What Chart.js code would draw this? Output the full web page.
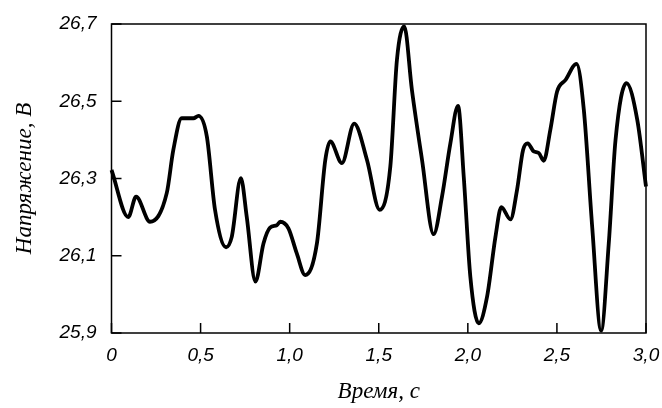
<!DOCTYPE html>
<html>
<head>
<meta charset="utf-8">
<script src="https://cdn.jsdelivr.net/npm/chart.js@4.4.1/dist/chart.umd.min.js"></script>
<style>
html,body{margin:0;padding:0;background:#fff;}
#wrap{width:662px;height:408px;}
</style>
</head>
<body>
<div id="wrap"><canvas id="c" width="662" height="408"></canvas></div>
<script>
const times = [0.0,0.094,0.138,0.216,0.31,0.347,0.394,0.46,0.488,0.535,0.581,0.643,0.675,0.726,0.759,0.808,0.853,0.89,0.928,0.947,0.993,1.04,1.087,1.153,1.2,1.228,1.293,1.362,1.434,1.505,1.565,1.602,1.643,1.686,1.743,1.808,1.855,1.902,1.945,1.977,2.014,2.061,2.108,2.155,2.188,2.239,2.276,2.31,2.336,2.37,2.398,2.426,2.463,2.501,2.548,2.61,2.651,2.698,2.748,2.791,2.829,2.89,2.951,3.0];
const voltage = [26.322,26.200,26.253,26.188,26.262,26.374,26.456,26.456,26.462,26.409,26.219,26.122,26.149,26.301,26.201,26.033,26.132,26.173,26.179,26.188,26.171,26.106,26.05,26.132,26.348,26.396,26.34,26.442,26.348,26.219,26.331,26.607,26.694,26.53,26.348,26.156,26.253,26.391,26.488,26.305,26.046,25.925,25.994,26.149,26.226,26.194,26.27,26.374,26.391,26.37,26.366,26.346,26.426,26.525,26.555,26.597,26.478,26.175,25.906,26.132,26.4,26.547,26.452,26.279];
const xTickValues = [0,0.5,1.0,1.5,2.0,2.5,3.0];
const xTickLabels = ['0','0,5','1,0','1,5','2,0','2,5','3,0'];
const yTickValues = [25.9,26.1,26.3,26.5,26.7];
const yTickLabels = ['25,9','26,1','26,3','26,5','26,7'];
const xTitle = 'Время, с';
const yTitle = 'Напряжение, В';

const points = times.map((t,i)=>({x:t,y:voltage[i]}));

const frame = {
  id:'frame',
  afterDraw(chart){
    const {ctx, chartArea:a, scales} = chart;
    ctx.save();
    ctx.strokeStyle = '#000';
    ctx.lineWidth = 1.5;
    ctx.strokeRect(a.left, a.top, a.right-a.left, a.bottom-a.top);
    ctx.beginPath();
    xTickValues.forEach(v=>{
      const px = scales.x.getPixelForValue(v);
      ctx.moveTo(px, a.bottom); ctx.lineTo(px, a.bottom-10);
    });
    yTickValues.forEach(v=>{
      const py = scales.y.getPixelForValue(v);
      ctx.moveTo(a.left, py); ctx.lineTo(a.left+10, py);
    });
    ctx.stroke();
    ctx.restore();
  }
};

new Chart(document.getElementById('c'), {
  type:'line',
  data:{datasets:[{
    data:points,
    borderColor:'#000',
    borderWidth:3.8,
    pointRadius:0,
    fill:false,
    cubicInterpolationMode:'monotone',
    clip:6
  }]},
  options:{
    responsive:false,
    animation:false,
    events:[],
    layout:{padding:{top:24,right:16,left:0,bottom:0}},
    plugins:{legend:{display:false},tooltip:{enabled:false}},
    scales:{
      x:{
        type:'linear', min:0, max:3.0,
        afterBuildTicks(s){ s.ticks = xTickValues.map(v=>({value:v})); },
        afterFit(s){ s.height = 75; s.paddingLeft = 0; s.paddingRight = 0; },
        grid:{display:false, drawTicks:false},
        border:{display:false},
        ticks:{
          padding:11, color:'#000', maxRotation:0, autoSkip:false,
          font:{family:'"Liberation Sans", Arial, sans-serif', size:19, style:'italic'},
          callback:(v,i)=>xTickLabels[i]
        },
        title:{display:true, text:xTitle, color:'#000', padding:{top:0,bottom:2},
          font:{family:'"Liberation Serif", "Times New Roman", serif', size:23, style:'italic'}}
      },
      y:{
        type:'linear', min:25.9, max:26.7,
        afterBuildTicks(s){ s.ticks = yTickValues.map(v=>({value:v})); },
        afterFit(s){ s.width = 111.5; s.paddingTop = 0; s.paddingBottom = 0; },
        grid:{display:false, drawTicks:false},
        border:{display:false},
        ticks:{
          padding:15, color:'#000', autoSkip:false,
          font:{family:'"Liberation Sans", Arial, sans-serif', size:19, style:'italic'},
          callback:(v,i)=>yTickLabels[i]
        },
        title:{display:true, text:yTitle, color:'#000', padding:{top:11,bottom:0},
          font:{family:'"Liberation Serif", "Times New Roman", serif', size:23, style:'italic'}}
      }
    }
  },
  plugins:[frame]
});
</script>
</body>
</html>
